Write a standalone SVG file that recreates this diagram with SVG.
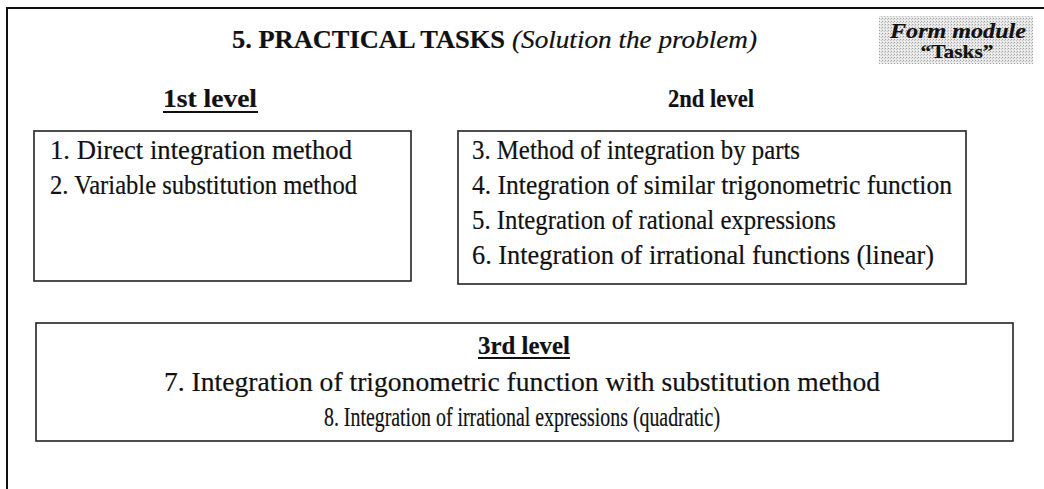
<svg xmlns="http://www.w3.org/2000/svg" width="1044" height="489" viewBox="0 0 1044 489">
  <defs>
    <pattern id="dots" width="3" height="3" patternUnits="userSpaceOnUse">
      <rect width="3" height="3" fill="#e6e6e6"/>
      <rect x="0" y="0" width="1" height="1" fill="#a4a4a4"/>
      <rect x="2" y="1" width="1" height="1" fill="#c4c4c4"/>
      <rect x="1" y="2" width="1" height="1" fill="#f6f6f6"/>
    </pattern>
  </defs>
  <style>
    .frame { fill: none; stroke: #111; stroke-width: 2; }
    .box { fill: #fff; stroke: #222; stroke-width: 1.6; }
    text { font-family: 'Liberation Serif', 'Times New Roman', Tinos, 'DejaVu Serif', serif; fill: #111; stroke: #111; stroke-width: 0.2; }
    .item { font-size: 27px; }
    .head { font-size: 25px; font-weight: bold; }
    .title { font-size: 25px; font-weight: bold; }
    .ital { font-size: 25px; font-style: italic; }
    .ul { stroke: #111; stroke-width: 2; }
  </style>
  <rect width="1044" height="489" fill="#fff"/>

  <!-- page frame: top and left edges -->
  <path class="frame" d="M7 489 V8 H1044"/>

  <!-- heading -->
  <g id="title">
    <text class="title" x="232" y="48" textLength="273" lengthAdjust="spacingAndGlyphs">5. PRACTICAL TASKS</text>
    <text class="ital" x="512" y="48" textLength="245" lengthAdjust="spacingAndGlyphs">(Solution the problem)</text>
  </g>

  <g id="form-module">
    <rect x="879" y="16" width="154" height="48" fill="url(#dots)"/>
    <text x="958" y="38" text-anchor="middle" font-size="21" font-weight="bold" font-style="italic" textLength="136" lengthAdjust="spacingAndGlyphs">Form module</text>
    <text x="957" y="58" text-anchor="middle" font-size="19" font-weight="bold" textLength="73" lengthAdjust="spacingAndGlyphs">“Tasks”</text>
  </g>

  <!-- level 1 -->
  <g id="level1">
    <text class="head" x="163" y="107" textLength="94" lengthAdjust="spacingAndGlyphs">1st level</text>
    <line class="ul" x1="163" y1="112" x2="258" y2="112"/>
    <rect class="box" x="34" y="131" width="377" height="150"/>
    <text class="item" x="50" y="159" textLength="302" lengthAdjust="spacingAndGlyphs">1. Direct integration method</text>
    <text class="item" x="50" y="194" textLength="307" lengthAdjust="spacingAndGlyphs">2. Variable substitution method</text>
  </g>

  <!-- level 2 -->
  <g id="level2">
    <text class="head" x="668" y="107" textLength="86" lengthAdjust="spacingAndGlyphs">2nd level</text>
    <rect class="box" x="458" y="131" width="508" height="153"/>
    <text class="item" x="472" y="159" textLength="328" lengthAdjust="spacingAndGlyphs">3. Method of integration by parts</text>
    <text class="item" x="472" y="194" textLength="480" lengthAdjust="spacingAndGlyphs">4. Integration of similar trigonometric function</text>
    <text class="item" x="472" y="229" textLength="364" lengthAdjust="spacingAndGlyphs">5. Integration of rational expressions</text>
    <text class="item" x="472" y="264" textLength="462" lengthAdjust="spacingAndGlyphs">6. Integration of irrational functions (linear)</text>
  </g>

  <!-- level 3 -->
  <g id="level3">
    <rect class="box" x="36" y="323" width="977" height="118"/>
    <text class="head" x="478" y="354" textLength="92" lengthAdjust="spacingAndGlyphs">3rd level</text>
    <line class="ul" x1="478" y1="358" x2="570" y2="358"/>
    <text x="164" y="391" font-size="28" textLength="716" lengthAdjust="spacingAndGlyphs">7. Integration of trigonometric function with substitution method</text>
    <text x="324" y="426" font-size="27" textLength="396" lengthAdjust="spacingAndGlyphs">8. Integration of irrational expressions (quadratic)</text>
  </g>

  <g id="connectors"/>
</svg>
